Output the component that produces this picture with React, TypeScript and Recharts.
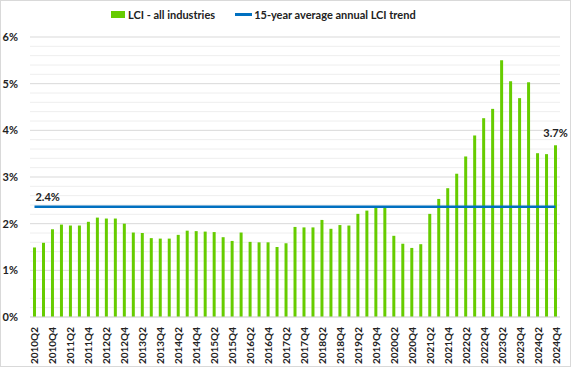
import { ComposedChart, Bar, Line, XAxis, YAxis, CartesianGrid } from "recharts";

const quarters = [
  "2010Q2", "2010Q3", "2010Q4",
  "2011Q1", "2011Q2", "2011Q3", "2011Q4",
  "2012Q1", "2012Q2", "2012Q3", "2012Q4",
  "2013Q1", "2013Q2", "2013Q3", "2013Q4",
  "2014Q1", "2014Q2", "2014Q3", "2014Q4",
  "2015Q1", "2015Q2", "2015Q3", "2015Q4",
  "2016Q1", "2016Q2", "2016Q3", "2016Q4",
  "2017Q1", "2017Q2", "2017Q3", "2017Q4",
  "2018Q1", "2018Q2", "2018Q3", "2018Q4",
  "2019Q1", "2019Q2", "2019Q3", "2019Q4",
  "2020Q1", "2020Q2", "2020Q3", "2020Q4",
  "2021Q1", "2021Q2", "2021Q3", "2021Q4",
  "2022Q1", "2022Q2", "2022Q3", "2022Q4",
  "2023Q1", "2023Q2", "2023Q3", "2023Q4",
  "2024Q1", "2024Q2", "2024Q3", "2024Q4",
];

// annual LCI growth, all industries (%)
const lci = [
  1.49, 1.59, 1.88,
  1.98, 1.96, 1.96, 2.04,
  2.13, 2.11, 2.11, 2.0,
  1.81, 1.8, 1.69, 1.68,
  1.68, 1.76, 1.85, 1.84,
  1.83, 1.82, 1.71, 1.63,
  1.81, 1.61, 1.6, 1.6,
  1.5, 1.58, 1.93, 1.92,
  1.92, 2.08, 1.89, 1.97,
  1.96, 2.21, 2.28, 2.35,
  2.36, 1.74, 1.57, 1.48,
  1.56, 2.21, 2.53, 2.76,
  3.07, 3.44, 3.89, 4.26,
  4.46, 5.5, 5.05, 4.69,
  5.03, 3.51, 3.49, 3.68,
];

const avgTrend = 2.36;

const yMax = 6;
const majorTicks = [0, 1, 2, 3, 4, 5, 6];
const minorTicks = [
  0.2, 0.4, 0.6, 0.8, 1.2, 1.4, 1.6, 1.8, 2.2, 2.4, 2.6, 2.8,
  3.2, 3.4, 3.6, 3.8, 4.2, 4.4, 4.6, 4.8, 5.2, 5.4, 5.6, 5.8,
];

const data = quarters.map((q, i) => ({ q, lci: lci[i], avg: avgTrend }));

const FONT = "Lato, 'Liberation Sans', sans-serif";
const GREEN = "#66CC00";
const BLUE = "#0070C0";

const XTick = (props: any) => {
  const { x, y, payload } = props;
  return (
    <text
      x={x}
      y={y}
      transform={`rotate(-90, ${x}, ${y})`}
      textAnchor="end"
      dominantBaseline="central"
      fontFamily={FONT}
      fontWeight="bold"
      fontSize={10}
      fill="#222"
    >
      {payload.value}
    </text>
  );
};

const LastBarLabel = (props: any) => {
  const { x, y, width, index } = props;
  if (index !== lci.length - 1) return null;
  return (
    <text x={x + width / 2} y={y - 8} textAnchor="middle" fontFamily={FONT} fontWeight="bold" fontSize={11} fill="#222">
      {lci[index].toFixed(1) + "%"}
    </text>
  );
};

const AvgLabel = (props: any) => {
  const { x, y, index } = props;
  if (index !== 0) return null;
  return (
    <text x={x + 1} y={y - 6} fontFamily={FONT} fontWeight="bold" fontSize={11} fill="#222">
      {avgTrend.toFixed(1) + "%"}
    </text>
  );
};

// light minor gridlines every 0.2%
const minorCoords = (props: any) => {
  const s = props?.yAxis?.scale;
  if (typeof s === "function") return minorTicks.map((v) => s(v));
  if (s && typeof s.map === "function") return minorTicks.map((v) => s.map(v));
  const off = props?.offset;
  if (!off) return [];
  return minorTicks.map((v) => off.top + off.height * (1 - v / yMax));
};

const App = () => {
  return (
    <div
      style={{
        position: "absolute",
        left: 0,
        top: 0,
        width: 571,
        height: 367,
        boxSizing: "border-box",
        border: "1px solid #d9d9d9",
        background: "#fff",
      }}
    >
      <div
        style={{
          position: "absolute",
          top: 7,
          left: 110,
          display: "flex",
          alignItems: "center",
          fontFamily: FONT,
          fontWeight: "bold",
          fontSize: 11,
          color: "#222",
          whiteSpace: "nowrap",
        }}
      >
        <span style={{ display: "inline-block", width: 14, height: 7, background: GREEN, marginRight: 3 }} />
        <span style={{ marginRight: 20 }}>LCI - all industries</span>
        <span style={{ display: "inline-block", width: 17, height: 3, background: BLUE, marginRight: 2 }} />
        <span>15-year average annual LCI trend</span>
      </div>
      <div style={{ position: "absolute", left: -1, top: -1 }}>
        <ComposedChart
          width={571}
          height={367}
          data={data}
          margin={{ top: 37, right: 11, left: 0, bottom: 2 }}
          barCategoryGap={0}
        >
          <CartesianGrid vertical={false} horizontalCoordinatesGenerator={minorCoords} stroke="#eeeeee" strokeWidth={1} />
          <CartesianGrid vertical={false} stroke="#d9d9d9" strokeWidth={1} />
          <XAxis
            dataKey="q"
            interval={1}
            height={48}
            tick={<XTick />}
            tickLine={false}
            axisLine={{ stroke: "#d9d9d9" }}
            tickMargin={4}
          />
          <YAxis
            width={30}
            domain={[0, yMax]}
            ticks={majorTicks}
            tickFormatter={(v: number) => v + "%"}
            tickLine={false}
            axisLine={false}
            tickMargin={6}
            tick={{ fontFamily: FONT, fontWeight: "bold", fontSize: 11, fill: "#222" }}
          />
          <Bar dataKey="lci" fill={GREEN} barSize={3} isAnimationActive={false} label={<LastBarLabel />} />
          <Line
            dataKey="avg"
            stroke={BLUE}
            strokeWidth={2.5}
            dot={false}
            activeDot={false}
            isAnimationActive={false}
            label={<AvgLabel />}
          />
        </ComposedChart>
      </div>
    </div>
  );
};

export default App;
